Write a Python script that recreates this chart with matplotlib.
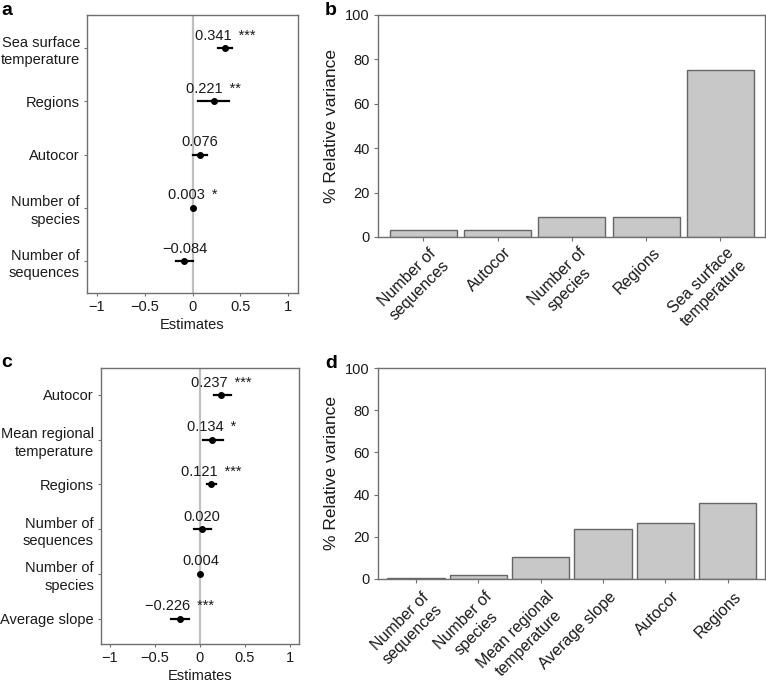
import numpy as np
import matplotlib.pyplot as plt
import matplotlib.transforms as mtransforms

plt.rcParams['font.family'] = ['Liberation Sans', 'DejaVu Sans']
plt.rcParams['font.size'] = 10

# panel a: model estimates (bottom to top)
labels_a = ['Number of\nsequences', 'Number of\nspecies', 'Autocor', 'Regions', 'Sea surface\ntemperature']
est_a = [-0.084, 0.003, 0.076, 0.221, 0.341]
lo_a = [-0.167, -0.005, 0.0, 0.06, 0.267]
hi_a = [0.0, 0.008, 0.15, 0.38, 0.417]
stars_a = ['', '*', '', '**', '***']

# panel b: relative variance
cats_b = ['Number of\nsequences', 'Autocor', 'Number of\nspecies', 'Regions', 'Sea surface\ntemperature']
var_b = [3.0, 3.3, 8.9, 9.0, 75.2]

# panel c: model estimates (bottom to top)
labels_c = ['Average slope', 'Number of\nspecies', 'Number of\nsequences', 'Regions',
            'Mean regional\ntemperature', 'Autocor']
est_c = [-0.226, 0.004, 0.020, 0.121, 0.134, 0.237]
lo_c = [-0.32, -0.004, -0.067, 0.08, 0.03, 0.157]
hi_c = [-0.123, 0.012, 0.127, 0.18, 0.25, 0.343]
stars_c = ['***', '', '', '***', '*', '***']

# panel d: relative variance
cats_d = ['Number of\nsequences', 'Number of\nspecies', 'Mean regional\ntemperature',
          'Average slope', 'Autocor', 'Regions']
var_d = [0.6, 1.9, 10.2, 23.5, 26.6, 35.9]

spine_col = '#707070'
txt_col = '#1a1a1a'

fig = plt.figure(figsize=(7.66, 6.85), dpi=100)
W, H = 766, 685


def box(l, t, r, b):
    return [l / W, 1 - b / H, (r - l) / W, (b - t) / H]


def fmt(v):
    s = '%.3f' % v
    return s.replace('-', '\u2212')


def forest(ax, labels, est, lo, hi, stars, ylim):
    y = np.arange(1, len(est) + 1)
    ax.axvline(0, color='#c0c0c0', lw=1.6, zorder=1)
    for yi, e, l, h, s in zip(y, est, lo, hi, stars):
        ax.plot([l, h], [yi, yi], color='black', lw=1.6, zorder=2)
        ax.plot(e, yi, 'o', color='black', ms=4, zorder=3)
        txt = fmt(e) + (' \u2009' + s if s else '')
        ax.annotate(txt, (e, yi), xytext=(0, 6), textcoords='offset points',
                    ha='center', va='baseline', fontsize=10.5, color=txt_col)
    ax.set_yticks(y)
    ax.set_yticklabels(labels, ha='right', multialignment='right', linespacing=1.35)
    ax.set_xlim(-1.1, 1.1)
    ax.set_ylim(*ylim)
    ax.set_xticks([-1, -0.5, 0, 0.5, 1])
    ax.set_xticklabels(['\u22121', '\u22120.5', '0', '0.5', '1'])
    ax.set_xlabel('Estimates', color=txt_col, fontsize=10.5, labelpad=3)
    ax.tick_params(length=2, color=spine_col, labelcolor=txt_col, labelsize=10.5, pad=3)
    for sp in ax.spines.values():
        sp.set_color(spine_col)
        sp.set_linewidth(1)


def variance(ax, cats, vals, width, xlim, below):
    x = np.arange(len(vals))
    ax.bar(x, vals, width=width, color='#c8c8c8', edgecolor='#666666', lw=1)
    ax.set_xlim(*xlim)
    ax.set_ylim(0, 100)
    ax.set_yticks([0, 20, 40, 60, 80, 100])
    ax.set_xticks(x)
    ax.set_xticklabels([''] * len(x))
    # rotated category labels, top-right corner just below the tick
    off = mtransforms.ScaledTranslation(6 / 100, -below / 100, fig.dpi_scale_trans)
    trans = ax.get_xaxis_transform() + off
    for xi, c in zip(x, cats):
        ax.text(xi, 0, c, transform=trans, rotation=45, ha='right', va='top',
                rotation_mode='anchor', multialignment='center', linespacing=1.25,
                fontsize=11.5, color=txt_col)
    ax.set_ylabel('% Relative variance', color=txt_col, fontsize=12.5)
    ax.yaxis.set_label_coords(-39 / 387, 0.5)
    ax.tick_params(length=3, color=spine_col, labelcolor=txt_col, labelsize=10.5, pad=3)
    for sp in ax.spines.values():
        sp.set_color(spine_col)
        sp.set_linewidth(1)


ax_a = fig.add_axes(box(87, 15, 298, 293))
forest(ax_a, labels_a, est_a, lo_a, hi_a, stars_a, (0.4, 5.62))

ax_c = fig.add_axes(box(101, 368, 299, 644))
forest(ax_c, labels_c, est_c, lo_c, hi_c, stars_c, (0.43, 6.6))

ax_b = fig.add_axes(box(378, 15, 765, 237))
variance(ax_b, cats_b, var_b, 0.9, (-0.61, 4.6), 8)

ax_d = fig.add_axes(box(378, 368, 765, 579))
variance(ax_d, cats_d, var_d, 0.92, (-0.61, 5.6), 10)

for lab, px, py in [('a', 1, 2), ('b', 325, 2), ('c', 1, 354), ('d', 325, 355)]:
    fig.text(px / W, 1 - py / H, lab, fontsize=14, fontweight='bold', ha='left', va='top')

fig.savefig('out.png', dpi=100)
